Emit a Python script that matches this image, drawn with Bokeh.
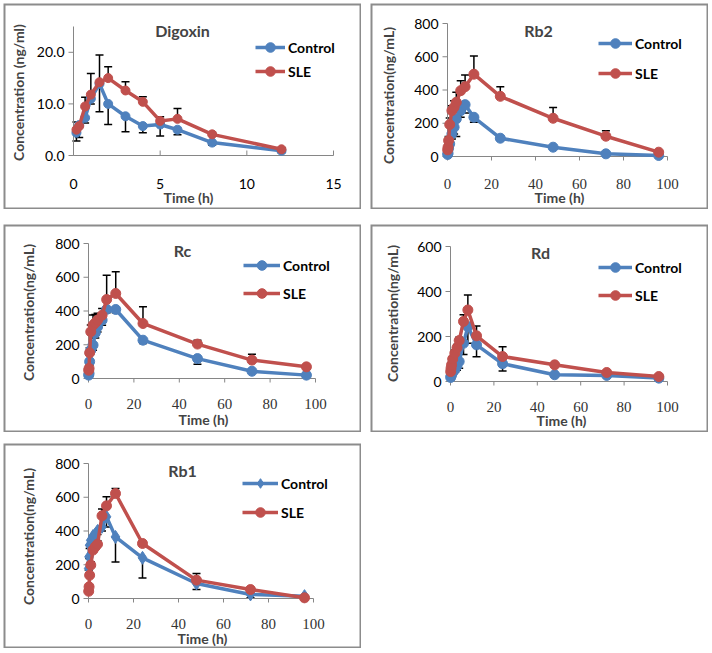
from math import pi
from bokeh.plotting import figure
from bokeh.models import (Range1d, Label, Legend, LegendItem, Whisker, BoxAnnotation,
                          ColumnDataSource, TeeHead, Spacer)
from bokeh.layouts import row, column
from bokeh.embed import file_html
from bokeh.resources import INLINE
from bokeh.core.properties import value

BLUE = "#4F81BD"
RED = "#C0504D"
GRAY = "#868686"

# ---------------- data ----------------
dig_t = [0.17, 0.33, 0.67, 1, 1.5, 2, 3, 4, 5, 6, 8, 12]
dig_ctrl = [4.4, 5.9, 7.3, 11.0, 13.9, 10.0, 7.6, 5.7, 6.0, 5.0, 2.5, 0.9]
dig_sle = [5.0, 5.7, 9.5, 11.8, 14.2, 15.0, 12.6, 10.4, 6.7, 7.1, 4.1, 1.2]
dig_ctrl_up = [0, 0, 4.0, 0, 5.6, 0, 0, 0, 0, 0, 0, 0]
dig_ctrl_dn = [1.6, 2.4, 1.0, 1.0, 5.4, 4.0, 3.0, 1.3, 2.2, 1.0, 0.5, 0.3]
dig_sle_up = [1.5, 0, 0, 4.1, 0, 2.2, 1.7, 1.0, 0.8, 2.0, 0.4, 0.3]

gin_t = [0.083, 0.25, 0.5, 1, 2, 3, 4, 6, 8, 12, 24, 48, 72, 96]

rb2_ctrl = [12, 20, 50, 76, 136, 176, 226, 276, 312, 236, 110, 56, 16, 6]
rb2_sle = [40, 56, 96, 192, 276, 296, 326, 396, 420, 495, 362, 230, 122, 26]
rb2_sle_up = [10, 15, 25, 40, 30, 40, 60, 60, 70, 110, 58, 65, 33, 5]
rb2_ctrl_dn = [5, 8, 15, 20, 30, 40, 106, 40, 50, 30, 10, 10, 5, 3]

rc_ctrl = [20, 30, 100, 168, 198, 270, 306, 346, 410, 409, 227, 118, 43, 20]
rc_sle = [49, 60, 152, 277, 316, 330, 346, 375, 468, 504, 326, 204, 109, 69]
rc_sle_up = [10, 15, 30, 40, 60, 50, 40, 40, 144, 128, 99, 23, 35, 5]
rc_ctrl_dn = [5, 10, 20, 20, 30, 30, 30, 30, 20, 20, 20, 33, 10, 10]

rd_ctrl = [18, 25, 30, 40, 52, 70, 89, 170, 244, 163, 79, 30, 27, 15]
rd_sle = [44, 59, 74, 100, 126, 150, 182, 267, 318, 203, 111, 74, 40, 22]
rd_sle_up = [5, 5, 10, 10, 15, 15, 15, 30, 67, 44, 44, 5, 5, 5]
rd_ctrl_dn = [5, 5, 5, 10, 10, 20, 30, 50, 74, 53, 32, 5, 5, 5]

rb1_ctrl = [178, 247, 316, 345, 370, 380, 400, 425, 484, 365, 241, 89, 24, 14]
rb1_sle = [43, 69, 138, 198, 287, 306, 322, 490, 549, 622, 326, 109, 53, 4]
rb1_sle_up = [5, 10, 15, 20, 20, 20, 20, 40, 54, 30, 10, 39, 10, 3]
rb1_ctrl_dn = [10, 10, 20, 20, 20, 20, 20, 25, 60, 148, 119, 36, 20, 5]

dig_xticks = [0, 5, 10, 15]
dig_yticks = [0, 10, 20]
gin_xticks = [0, 20, 40, 60, 80, 100]
ticks_800 = [0, 200, 400, 600, 800]
ticks_600 = [0, 200, 400, 600]

series_names = ["Control", "SLE"]


def add_whiskers(p, t, y, err, up):
    xs, lo, hi = [], [], []
    for ti, yi, ei in zip(t, y, err):
        if ei > 0:
            xs.append(ti)
            if up:
                lo.append(yi)
                hi.append(yi + ei)
            else:
                lo.append(yi - ei)
                hi.append(yi)
    src = ColumnDataSource(dict(base=xs, lower=lo, upper=hi))
    head = TeeHead(size=8, line_color="black", line_width=1.5)
    if up:
        w = Whisker(source=src, base="base", lower="lower", upper="upper",
                    upper_head=head, lower_head=None, line_color="black", line_width=1.5)
    else:
        w = Whisker(source=src, base="base", lower="lower", upper="upper",
                    lower_head=head, upper_head=None, line_color="black", line_width=1.5)
    p.add_layout(w)


def make_panel(W, H, ox, oy, lx, ly, xmax, ymax, xticks, yticks, t, ctrl, sle,
               errs, title, title_c, leg_left, leg_y, pitch, glyph_w, ylab, ylab_c,
               xlab_c, serif_x, xlab_off, yfmt="{:.0f}", x_in=False,
               ctrl_marker="circle", msize=10, lw=3.5):
    sx, sy = lx / xmax, ly / ymax
    x0 = -ox / sx
    x1 = x0 + W / sx
    y0 = -(H - oy) / sy
    y1 = y0 + H / sy
    p = figure(width=W, height=H, output_backend="svg", toolbar_location=None,
               x_range=Range1d(x0, x1), y_range=Range1d(y0, y1),
               x_axis_location=None, y_axis_location=None,
               min_border_left=0, min_border_right=0, min_border_top=0, min_border_bottom=0)
    p.outline_line_color = None
    p.background_fill_color = "white"
    p.border_fill_color = "white"
    for g in p.grid:
        g.visible = False

    # chart-area border
    p.add_layout(BoxAnnotation(left=x0, right=x1, bottom=y0, top=y1, fill_alpha=0,
                               line_color="#8c8c8c", line_width=4, line_alpha=1))

    # axes (drawn with the plot's own scales)
    xa0, xa1 = xticks[0], xticks[-1]
    ya0 = yticks[0]
    p.line([xa0, xa1], [ya0, ya0], line_color=GRAY, line_width=1)
    p.line([xa0, xa0], [ya0, ymax], line_color=GRAY, line_width=1)
    if x_in:
        p.segment(x0=xticks, y0=[ya0] * len(xticks), x1=xticks,
                  y1=[ya0 + 5 / sy] * len(xticks), line_color=GRAY, line_width=1)
    else:
        p.segment(x0=xticks, y0=[ya0] * len(xticks), x1=xticks,
                  y1=[ya0 - 4 / sy] * len(xticks), line_color=GRAY, line_width=1)
    p.segment(x0=[xa0 - 5 / sx] * len(yticks), y0=yticks, x1=[xa0] * len(yticks),
              y1=yticks, line_color=GRAY, line_width=1)
    if serif_x:
        p.text(x=xticks, y=[ya0] * len(xticks), text=[str(v) for v in xticks],
               y_offset=xlab_off, text_align="center", text_baseline="middle",
               text_font=value("Liberation Serif"), text_font_size="15px",
               text_color="#333333")
    else:
        p.text(x=xticks, y=[ya0] * len(xticks), text=[str(v) for v in xticks],
               y_offset=xlab_off, text_align="center", text_baseline="middle",
               text_font=value("Lato"), text_font_size="14px", text_color="black")
    p.text(x=[xa0] * len(yticks), y=yticks, text=[yfmt.format(v) for v in yticks],
           x_offset=-9, text_align="right", text_baseline="middle",
           text_font=value("Lato"), text_font_size="14px", text_color="black")

    # series
    lc = p.line(t, ctrl, line_color=BLUE, line_width=lw)
    mc = p.scatter(t, ctrl, marker=ctrl_marker,
                   size=msize + (3 if ctrl_marker == "diamond" else 0),
                   fill_color=BLUE, line_color=BLUE)
    ls = p.line(t, sle, line_color=RED, line_width=lw)
    ms = p.scatter(t, sle, marker="circle", size=msize, fill_color=RED, line_color=RED)

    for (yy, ee, up) in errs:
        add_whiskers(p, t, yy, ee, up)

    def fx(bx):
        return bx

    def fy(by):
        return H - by

    p.add_layout(Label(x=fx(title_c[0]), y=fy(title_c[1]), x_units="screen", y_units="screen",
                       text=title, text_font="Lato", text_font_style="bold",
                       text_font_size="16px", text_align="center", text_baseline="middle"))
    p.add_layout(Label(x=fx(ylab_c[0]), y=fy(ylab_c[1]), x_units="screen", y_units="screen",
                       text=ylab, angle=pi / 2, text_font="Lato", text_font_style="bold",
                       text_font_size="14px", text_align="center", text_baseline="middle"))
    p.add_layout(Label(x=fx(xlab_c[0]), y=fy(xlab_c[1]), x_units="screen", y_units="screen",
                       text="Time (h)", text_font="Lato", text_font_style="bold",
                       text_font_size="14px", text_align="center", text_baseline="middle"))

    gh = 24
    leg_bottom = leg_y - gh / 2 + gh + pitch
    legend = Legend(items=[LegendItem(label=series_names[0], renderers=[lc, mc]),
                           LegendItem(label=series_names[1], renderers=[ls, ms])],
                    location=(fx(leg_left), fy(leg_bottom)),
                    orientation="vertical", glyph_width=glyph_w, glyph_height=gh,
                    label_height=gh, spacing=pitch - gh, padding=0, margin=0,
                    label_standoff=3, border_line_color=None, background_fill_alpha=0,
                    label_text_font="Lato", label_text_font_style="bold",
                    label_text_font_size="14px", label_text_color="black")
    p.add_layout(legend, "center")
    return p


W1, W2 = 358, 338
H1, H2, H3 = 206, 208, 205

p1 = make_panel(W1, H1, 70, 152, 260, 129, 15, 25, dig_xticks, dig_yticks,
                dig_t, dig_ctrl, dig_sle,
                [(dig_ctrl, dig_ctrl_up, True), (dig_ctrl, dig_ctrl_dn, False),
                 (dig_sle, dig_sle_up, True)],
                "Digoxin", (179, 27), 252, 44, 24, 30,
                "Concentration (ng/ml)", (15, 89), (185, 194), False, 28,
                yfmt="{:.1f}", x_in=True, msize=9)

p2 = make_panel(W2, H1, 77, 153, 220, 133, 100, 800, gin_xticks, ticks_800,
                gin_t, rb2_ctrl, rb2_sle,
                [(rb2_sle, rb2_sle_up, True), (rb2_ctrl, rb2_ctrl_dn, False)],
                "Rb2", (168, 27), 228, 40, 30, 34,
                "Concentration(ng/mL)", (18, 92), (189, 194), True, 27)

p3 = make_panel(W1, H2, 85, 154, 227, 135, 100, 800, gin_xticks, ticks_800,
                gin_t, rc_ctrl, rc_sle,
                [(rc_sle, rc_sle_up, True), (rc_ctrl, rc_ctrl_dn, False)],
                "Rc", (179, 26), 240, 41, 28, 37,
                "Concentration(ng/mL)", (25, 88), (200, 195), True, 25)

p4 = make_panel(W2, H2, 80, 157, 217, 135, 100, 600, gin_xticks, ticks_600,
                gin_t, rd_ctrl, rd_sle,
                [(rd_sle, rd_sle_up, True), (rd_ctrl, rd_ctrl_dn, False)],
                "Rd", (170, 28), 228, 43, 28, 34,
                "Concentration(ng/mL)", (22, 89), (191, 196), True, 25)

p5 = make_panel(W1, H3, 85, 155, 225, 135, 100, 800, gin_xticks, ticks_800,
                gin_t, rb1_ctrl, rb1_sle,
                [(rb1_sle, rb1_sle_up, True), (rb1_ctrl, rb1_ctrl_dn, False)],
                "Rb1", (179, 27), 239, 40, 29, 36,
                "Concentration(ng/mL)", (25, 93), (199, 195), True, 25,
                ctrl_marker="diamond")

layout = column(
    row(p1, Spacer(width=9), p2),
    Spacer(height=15),
    row(p3, Spacer(width=9), p4),
    Spacer(height=11),
    p5,
    styles={"position": "absolute", "left": "3px", "top": "3px"},
)

open("out.html", "w").write(file_html(layout, INLINE))
